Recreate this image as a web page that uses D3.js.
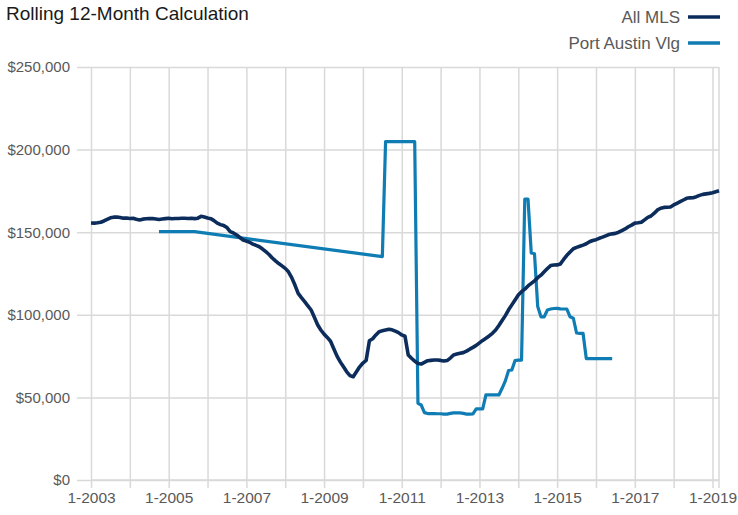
<!DOCTYPE html>
<html>
<head>
<meta charset="utf-8">
<script src="https://cdn.jsdelivr.net/npm/d3@7"></script>
<style>
  html, body { margin: 0; padding: 0; background: #ffffff; }
  svg { display: block; }
</style>
</head>
<body>
<script>
// ---------- DATA ----------
const startYear = 2003;            // first month = 1-2003, monthly series
const xTickLabels = ["1-2003","1-2005","1-2007","1-2009","1-2011","1-2013","1-2015","1-2017","1-2019"];
const yTicks = [0, 50000, 100000, 150000, 200000, 250000];
const seriesNames = ["All MLS", "Port Austin Vlg"];

const allMLS = [
  155600,155500,155700,156000,156800,157800,158700,159100,159200,158900,158500,158600, // 2003
  158300,158400,157800,157400,157900,158100,158200,158300,158000,157700,158000,158200, // 2004
  158400,158100,158300,158300,158400,158400,158300,158400,158200,158500,159600,159200, // 2005
  158600,158200,157000,155500,154600,154000,152800,150300,149500,148300,146800,145300, // 2006
  144600,143900,142800,142000,141200,139800,138200,136500,134400,132600,131000,129600, // 2007
  128100,126000,122500,118000,113000,110400,108000,105400,102900, 98500, 94000, 90800, // 2008
   88300, 86300, 84000, 79500, 75000, 71500, 68500, 65500, 63200, 62500, 65500, 68500, // 2009
   70800, 72400, 84300, 85500, 87800, 89800, 90300, 90800, 91200, 90900, 90100, 89200, // 2010
   87800, 87000, 75700, 73700, 72000, 70500, 70200, 71200, 72200, 72400, 72600, 72600, // 2011
   72400, 72000, 72300, 73800, 75700, 76200, 76700, 77100, 78000, 79200, 80300, 81500, // 2012
   83000, 84500, 85800, 87200, 88800, 90800, 93500, 96500, 99500,103000,106000,109000, // 2013
  112000,114000,115500,117500,119000,120500,122500,124000,126000,128000,129800,130100, // 2014
  130200,130800,133500,136000,138000,140000,140800,141500,142200,143000,144200,145000, // 2015
  145500,146300,147000,147800,148600,149000,149300,150000,151000,152000,153300,154300, // 2016
  155500,155700,156000,157500,159000,159800,161500,163500,164500,165000,165100,165300, // 2017
  166500,167500,168500,169500,170500,170800,170900,171500,172300,172900,173200,173500, // 2018
  173900,174500,175100                                                                  // 2019
];

const portAustin = [
  null,null,null,null,null,null,null,null,null,null,null,null,                         // 2003
  null,null,null,null,null,null,null,null,null,150300,150300,150300,                   // 2004
  150300,150300,150300,150300,150300,150300,150300,150300,150300,null,null,null,       // 2005
  null,null,null,null,null,null,null,null,null,null,null,null,                         // 2006
  null,null,null,null,null,null,null,null,null,null,null,null,                         // 2007
  null,null,null,null,null,null,null,null,null,null,null,null,                         // 2008
  null,null,null,null,null,null,null,null,null,null,null,null,                         // 2009
  null,null,null,null,null,null,135200,204800,204800,204800,204800,204800,             // 2010
  204800,204800,204800,204800,204800,46400,45400,40800,40200,40200,40200,40100,         // 2011
  40100,39900,39900,40300,40600,40600,40600,40300,39900,39900,40000,43000,              // 2012
  43000,43000,51500,51500,51500,51500,51500,55500,60000,66300,66600,72300,              // 2013
  72600,72600,170000,170000,137500,137000,105000,98800,98800,102900,103500,103800,      // 2014
  103900,103600,103500,103500,98800,97900,89000,88800,88800,73500,73500,73500,          // 2015
  73500,73500,73500,73500,73500,73500,null,null,null,null,null,null,                    // 2016
  null,null,null,null,null,null,null,null,null,null,null,null,                         // 2017
  null,null,null,null,null,null,null,null,null,null,null,null,                         // 2018
  null,null,null                                                                        // 2019
];

const colors = ["#0c2d5c", "#0f7db4"];

// ---------- CHART ----------
const W = 738, H = 515;
const FONT = "'Liberation Sans', Arial, sans-serif";
const mLeft = 91, mRight = 719, mTop = 67, mBottom = 480;

const svg = d3.select("body").append("svg").attr("width", W).attr("height", H)
  .style("font-family", FONT);

const nMonths = allMLS.length;
const x = d3.scaleLinear().domain([0, nMonths - 1]).range([mLeft, mRight]);
const y = d3.scaleLinear().domain([0, 250000]).range([mBottom, mTop]);

const grid = "#d9d9d9";

// horizontal gridlines (with y axis)
const yAxis = d3.axisLeft(y).tickValues(yTicks).tickSize(-(mRight - mLeft)).tickPadding(6)
  .tickFormat(d => "$" + d3.format(",")(d));
const gy = svg.append("g").attr("transform", `translate(${mLeft},0)`).call(yAxis);
gy.select(".domain").remove();
gy.selectAll(".tick line").attr("stroke", grid).attr("stroke-width", 1.5)
  .attr("x1", -14);
gy.selectAll(".tick text").attr("fill", "#595959").attr("font-size", 15).attr("x", -21)
  .style("font-family", FONT);

// vertical gridlines yearly
const yearIdx = d3.range(0, nMonths, 12);
const xAxis = d3.axisBottom(x).tickValues(yearIdx).tickSize(0)
  .tickFormat(d => (d % 24 === 0) ? xTickLabels[d / 24] : "");
const gx = svg.append("g").attr("transform", `translate(0,${mBottom})`).call(xAxis);
gx.select(".domain").remove();
gx.selectAll(".tick line").remove();
gx.selectAll(".tick").append("line")
  .attr("y1", 8).attr("y2", -(mBottom - mTop))
  .attr("stroke", grid).attr("stroke-width", 1.5);
gx.selectAll(".tick text").attr("fill", "#595959").attr("font-size", 15.5).attr("y", 12)
  .attr("dy", "0.71em").style("font-family", FONT);

// right edge line
svg.append("line").attr("x1", x(nMonths - 1)).attr("x2", x(nMonths - 1))
  .attr("y1", mTop).attr("y2", mBottom + 8).attr("stroke", grid).attr("stroke-width", 1.5);
// axis line
svg.append("line").attr("x1", mLeft).attr("x2", mRight).attr("y1", mBottom).attr("y2", mBottom)
  .attr("stroke", grid).attr("stroke-width", 1.5);

// lines
const lineGen = d3.line().x(d => x(d.i)).y(d => y(d.v));
const toPts = arr => arr.map((v, i) => ({i, v})).filter(d => d.v != null);

svg.append("path").datum(toPts(portAustin))
  .attr("d", lineGen).attr("fill", "none").attr("stroke", colors[1])
  .attr("stroke-width", 3.2).attr("stroke-linejoin", "round");
svg.append("path").datum(toPts(allMLS))
  .attr("d", lineGen).attr("fill", "none").attr("stroke", colors[0])
  .attr("stroke-width", 3.6).attr("stroke-linejoin", "round");

// title
svg.append("text").attr("x", 6).attr("y", 20).attr("font-size", 19).attr("fill", "#1a1a1a")
  .text("Rolling 12-Month Calculation");

// legend
const lg = svg.append("g");
seriesNames.forEach((name, k) => {
  const cy = 17 + k * 26;
  lg.append("text").attr("x", 680).attr("y", cy).attr("dy", "0.35em")
    .attr("text-anchor", "end").attr("font-size", 17).attr("fill", "#595959").text(name);
  lg.append("line").attr("x1", 688).attr("x2", 720).attr("y1", cy).attr("y2", cy)
    .attr("stroke", colors[k]).attr("stroke-width", 3.5);
});
</script>
</body>
</html>
